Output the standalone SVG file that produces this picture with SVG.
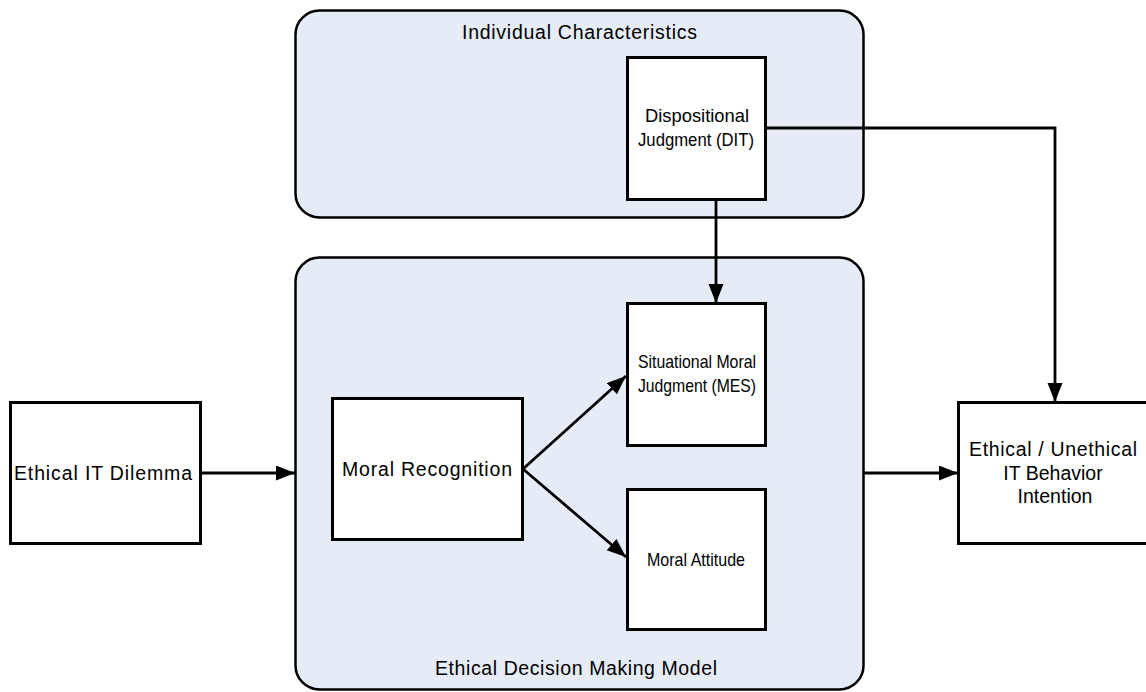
<svg xmlns="http://www.w3.org/2000/svg" width="1146" height="692" viewBox="0 0 1146 692">
<style>
text{font-family:"Liberation Sans",Arial,sans-serif;font-size:19.5px;fill:#000;text-anchor:middle}
.in{font-size:18.5px}
.cont{fill:#e6ecf6;stroke:#000;stroke-width:2.5}
.box{fill:#fff;stroke:#000;stroke-width:3}
.con{fill:none;stroke:#000;stroke-width:2.8}
</style>
<defs>
<marker id="arr" markerUnits="userSpaceOnUse" markerWidth="22" markerHeight="18" refX="19" refY="7.5" orient="auto">
<path d="M0,0 L19,7.5 L0,15 Z" fill="#000"/>
</marker>
</defs>
<g id="individual">
<rect class="cont" x="295.5" y="10.5" width="568" height="207" rx="24"/>
<text x="579.5" y="39" textLength="235" lengthAdjust="spacing">Individual Characteristics</text>
</g>
<g id="edm">
<rect class="cont" x="295.5" y="257.5" width="568" height="432" rx="24"/>
<text x="576" y="675" textLength="282" lengthAdjust="spacing">Ethical Decision Making Model</text>
</g>
<g id="disp">
<rect class="box" x="627.5" y="57.5" width="138" height="142"/>
<text class="in" x="697" y="122" textLength="104" lengthAdjust="spacingAndGlyphs">Dispositional</text>
<text class="in" x="696" y="146" textLength="116" lengthAdjust="spacingAndGlyphs">Judgment (DIT)</text>
</g>
<g id="situational">
<rect class="box" x="627.5" y="303.5" width="138" height="142"/>
<text class="in" x="697" y="368" textLength="118" lengthAdjust="spacingAndGlyphs">Situational Moral</text>
<text class="in" x="697" y="392" textLength="118" lengthAdjust="spacingAndGlyphs">Judgment (MES)</text>
</g>
<g id="attitude">
<rect class="box" x="627.5" y="489.5" width="138" height="140"/>
<text class="in" x="696" y="566" textLength="98" lengthAdjust="spacingAndGlyphs">Moral Attitude</text>
</g>
<g id="recognition">
<rect class="box" x="332.5" y="398.5" width="190" height="141"/>
<text x="427" y="476" textLength="170" lengthAdjust="spacing">Moral Recognition</text>
</g>
<g id="dilemma">
<rect class="box" x="10.5" y="402.5" width="190" height="141"/>
<text x="103" y="480" textLength="178" lengthAdjust="spacing">Ethical IT Dilemma</text>
</g>
<g id="intention">
<rect class="box" x="958.5" y="402.5" width="190" height="141"/>
<text x="1053" y="456" textLength="168" lengthAdjust="spacing">Ethical / Unethical</text>
<text x="1053" y="480">IT Behavior</text>
<text x="1055" y="503">Intention</text>
</g>
<g id="connectors">
<path class="con" d="M201,473 H295" marker-end="url(#arr)"/>
<path class="con" d="M523,469 L626,376" marker-end="url(#arr)"/>
<path class="con" d="M523,469 L626,557" marker-end="url(#arr)"/>
<path class="con" d="M716,200 V303" marker-end="url(#arr)"/>
<path class="con" d="M765,128 H1055 V402" marker-end="url(#arr)"/>
<path class="con" d="M864,473 H958" marker-end="url(#arr)"/>
</g>
</svg>
